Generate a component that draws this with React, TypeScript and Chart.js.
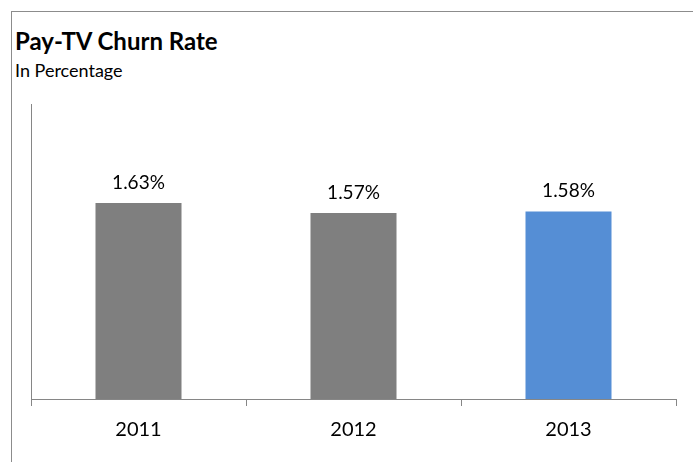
import React, { useEffect, useRef } from "react";
import { Chart, registerables } from "chart.js";

Chart.register(...registerables);

const years: string[] = ["2011", "2012", "2013"];
const churnRates: number[] = [1.63, 1.57, 1.58];
const valueLabels: string[] = ["1.63%", "1.57%", "1.58%"];
const barColors: string[] = ["#7f7f7f", "#7f7f7f", "#558ed5"];

const FONT = "Lato, 'Open Sans', sans-serif";

const valueLabelPlugin = {
  id: "valueLabels",
  afterDatasetsDraw(chart: any) {
    const ctx = chart.ctx;
    const meta = chart.getDatasetMeta(0);
    ctx.save();
    ctx.font = `19px ${FONT}`;
    ctx.fillStyle = "#000000";
    ctx.textAlign = "center";
    ctx.textBaseline = "alphabetic";
    meta.data.forEach((bar: any, i: number) => {
      ctx.fillText(valueLabels[i], bar.x, bar.y - 14);
    });
    ctx.restore();
  },
};

export default function App() {
  const canvasRef = useRef<HTMLCanvasElement | null>(null);

  useEffect(() => {
    if (!canvasRef.current) return;
    const chart = new Chart(canvasRef.current, {
      type: "bar",
      data: {
        labels: years,
        datasets: [
          {
            data: churnRates,
            backgroundColor: barColors,
            barPercentage: 0.4,
            categoryPercentage: 1,
          },
        ],
      },
      options: {
        responsive: false,
        animation: false,
        events: [],
        layout: { padding: { left: 31, right: 17, top: 104, bottom: 0 } },
        plugins: {
          legend: { display: false },
          tooltip: { enabled: false },
          title: { display: false },
        },
        scales: {
          x: {
            offset: true,
            grid: {
              display: true,
              drawOnChartArea: false,
              offset: true,
              tickLength: 7,
              color: "#868686",
              lineWidth: 1,
            },
            border: { display: true, color: "#868686", width: 1 },
            ticks: {
              color: "#000000",
              font: { family: FONT, size: 20 },
              padding: 12,
            },
            afterFit: (scale: any) => {
              scale.height = 63;
            },
          },
          y: {
            min: 0.456,
            max: 2.224,
            grid: { display: false },
            border: { display: true, color: "#868686", width: 1 },
            ticks: { display: false },
            afterFit: (scale: any) => {
              scale.width = 0;
            },
          },
        },
      },
      plugins: [valueLabelPlugin],
    });
    return () => chart.destroy();
  }, []);

  return (
    <div
      style={{
        position: "fixed",
        left: 0,
        top: 0,
        width: 693,
        height: 462,
        background: "#ffffff",
        overflow: "hidden",
      }}
    >
      <div
        style={{
          position: "absolute",
          left: 11,
          top: 11,
          width: 682,
          height: 451,
          borderTop: "1px solid #8c8c8c",
          borderLeft: "1px solid #8c8c8c",
          boxSizing: "border-box",
        }}
      />
      <div
        style={{
          position: "absolute",
          left: 15,
          top: 27,
          fontFamily: FONT,
          fontWeight: "bold",
          fontSize: 24,
          lineHeight: "28px",
          color: "#000000",
          whiteSpace: "nowrap",
        }}
      >
        Pay-TV Churn Rate
      </div>
      <div
        style={{
          position: "absolute",
          left: 15,
          top: 59,
          fontFamily: FONT,
          fontSize: 18,
          lineHeight: "22px",
          color: "#000000",
          whiteSpace: "nowrap",
        }}
      >
        In Percentage
      </div>
      <canvas
        ref={canvasRef}
        width={693}
        height={462}
        style={{ position: "absolute", left: 0, top: 0, width: 693, height: 462 }}
      />
    </div>
  );
}
